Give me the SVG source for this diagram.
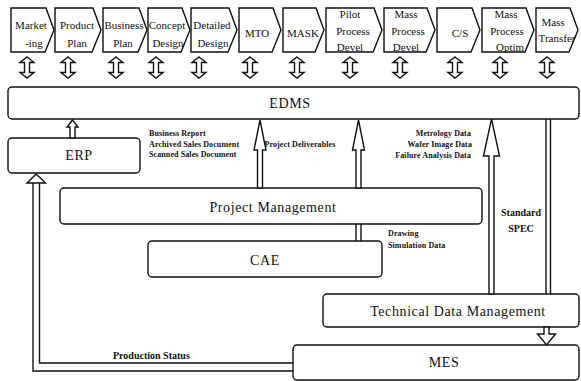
<svg xmlns="http://www.w3.org/2000/svg" width="581" height="381" viewBox="0 0 581 381">
  <defs>
    <style>
      .bg { fill: #ffffff; }
      .shape { fill: #ffffff; stroke: #111; stroke-width: 1.4; stroke-linejoin: miter; }
      .line { fill: none; stroke: #111; stroke-width: 1.4; }
      .step { font-family: "Liberation Serif", "Times New Roman", serif; font-size: 11px; fill: #111; text-anchor: middle; }
      .title { font-family: "Liberation Serif", "Times New Roman", serif; font-size: 14px; fill: #111; text-anchor: middle; letter-spacing: 0.6px; }
      .small { font-family: "Liberation Serif", "Times New Roman", serif; font-size: 8px; font-weight: bold; fill: #111; letter-spacing: 0.1px; }
      .mid { font-family: "Liberation Serif", "Times New Roman", serif; font-size: 10px; font-weight: bold; fill: #111; }
    </style>
    <!-- vertical two-way hollow arrow, centred on x=0, spanning y 57..78 -->
    <path id="dbl" d="M0,57 L7,62.5 L2.5,62.5 L2.5,72.5 L7,72.5 L0,78 L-7,72.5 L-2.5,72.5 L-2.5,62.5 L-7,62.5 Z"/>
  </defs>

  <rect class="bg" x="0" y="0" width="581" height="381"/>

  <!-- process steps along the top -->
  <g id="step-marketing">
    <polygon class="shape" points="11,8 46,8 54,30 45,52 11,52"/>
    <text class="step" x="31" y="28.5">Market</text>
    <text class="step" x="34" y="47">-ing</text>
  </g>
  <g id="step-product-plan">
    <polygon class="shape" points="55,8 93,8 101,30 92,52 55,52"/>
    <text class="step" x="77" y="28.5">Product</text>
    <text class="step" x="77" y="47">Plan</text>
  </g>
  <g id="step-business-plan">
    <polygon class="shape" points="103,8 139,8 147,30 138,52 103,52"/>
    <text class="step" x="124" y="28.5">Business</text>
    <text class="step" x="123" y="47">Plan</text>
  </g>
  <g id="step-concept-design">
    <polygon class="shape" points="148,8 182,8 190,30 181,52 148,52"/>
    <text class="step" x="167" y="28.5">Concept</text>
    <text class="step" x="168" y="47">Design</text>
  </g>
  <g id="step-detailed-design">
    <polygon class="shape" points="191,8 229,8 237,30 228,52 191,52"/>
    <text class="step" x="212" y="28.5">Detailed</text>
    <text class="step" x="213" y="47">Design</text>
  </g>
  <g id="step-mto">
    <polygon class="shape" points="239,8 273,8 281,30 272,52 239,52"/>
    <text class="step" x="257" y="37">MTO</text>
  </g>
  <g id="step-mask">
    <polygon class="shape" points="283,8 316,8 324,30 315,52 283,52"/>
    <text class="step" x="303" y="37">MASK</text>
  </g>
  <g id="step-pilot">
    <polygon class="shape" points="326,8 374,8 382,30 373,52 326,52"/>
    <text class="step" x="350" y="18">Pilot</text>
    <text class="step" x="353" y="35">Process</text>
    <text class="step" x="350" y="51">Devel</text>
  </g>
  <g id="step-mass-devel">
    <polygon class="shape" points="384,8 427,8 435,30 426,52 384,52"/>
    <text class="step" x="406" y="18">Mass</text>
    <text class="step" x="408" y="35">Process</text>
    <text class="step" x="406" y="51">Devel</text>
  </g>
  <g id="step-cs">
    <polygon class="shape" points="437,8 472,8 480,30 471,52 437,52"/>
    <text class="step" x="460" y="37">C/S</text>
  </g>
  <g id="step-mass-optim">
    <polygon class="shape" points="482,8 526,8 534,30 525,52 482,52"/>
    <text class="step" x="506" y="18">Mass</text>
    <text class="step" x="507" y="35">Process</text>
    <text class="step" x="510" y="51">Optim</text>
  </g>
  <g id="step-mass-transfer">
    <polygon class="shape" points="536,8 570,8 578,30 569,52 536,52"/>
    <text class="step" x="553" y="26">Mass</text>
    <text class="step" x="557" y="42">Transfer</text>
  </g>

  <!-- systems -->
  <g id="edms">
    <rect class="shape" x="8" y="87" width="571" height="32" rx="4"/>
    <text class="title" x="290" y="108">EDMS</text>
  </g>
  <g id="erp">
    <rect class="shape" x="8" y="138" width="132" height="35" rx="4"/>
    <text class="title" x="79" y="160">ERP</text>
  </g>
  <g id="project-management">
    <rect class="shape" x="60" y="188" width="422" height="36" rx="4"/>
    <text class="title" x="273" y="212">Project Management</text>
  </g>
  <g id="cae">
    <rect class="shape" x="148" y="241" width="234" height="36" rx="4"/>
    <text class="title" x="265" y="265">CAE</text>
  </g>
  <g id="technical-data-management">
    <rect class="shape" x="323" y="294" width="256" height="33" rx="4"/>
    <text class="title" x="458" y="316">Technical Data Management</text>
  </g>
  <g id="mes">
    <rect class="shape" x="293" y="345" width="286" height="35" rx="4"/>
    <text class="title" x="444" y="367">MES</text>
  </g>

  <!-- connectors -->
  <g id="connectors">
    <!-- steps to EDMS, two-way -->
    <use href="#dbl" class="shape" x="27"/>
    <use href="#dbl" class="shape" x="68"/>
    <use href="#dbl" class="shape" x="116"/>
    <use href="#dbl" class="shape" x="156"/>
    <use href="#dbl" class="shape" x="199"/>
    <use href="#dbl" class="shape" x="250"/>
    <use href="#dbl" class="shape" x="297"/>
    <use href="#dbl" class="shape" x="350"/>
    <use href="#dbl" class="shape" x="400"/>
    <use href="#dbl" class="shape" x="455"/>
    <use href="#dbl" class="shape" x="500"/>
    <use href="#dbl" class="shape" x="547"/>

    <!-- ERP up to EDMS -->
    <path class="shape" d="M72.5,120 L78,127 L75,127 L75,138 L70,138 L70,127 L67,127 Z"/>

    <!-- Project Management up to EDMS (two arrows) -->
    <path class="shape" d="M260,120 L266,150 L262.5,150 L262.5,188 L257.5,188 L257.5,150 L254,150 Z"/>
    <path class="shape" d="M358.5,120 L364.5,150 L361,150 L361,188 L356,188 L356,150 L352.5,150 Z"/>

    <!-- CAE to Project Management -->
    <path class="line" d="M356,224 V241 M361,224 V241"/>

    <!-- Technical Data Management up to EDMS -->
    <path class="shape" d="M491.5,119 L499.5,156 L494,156 L494,294 L489,294 L489,156 L483.5,156 Z"/>

    <!-- EDMS down to Technical Data Management (standard spec) -->
    <path class="line" d="M546,119 V294 M550.5,119 V294"/>

    <!-- Technical Data Management down to MES -->
    <path class="shape" d="M544,327 L549,327 L549,334 L555.5,334 L546.5,345 L537.5,334 L544,334 Z"/>

    <!-- MES production status back to ERP -->
    <path class="line" d="M293,371 H33 V183"/>
    <path class="line" d="M293,363 H39.5 V183"/>
    <path class="shape" d="M36.2,174 L45.5,183 L27,183 Z"/>
  </g>

  <!-- flow labels -->
  <g id="labels">
    <text class="small" x="149" y="136">Business Report</text>
    <text class="small" x="149" y="146.5">Archived Sales Document</text>
    <text class="small" x="149" y="157">Scanned Sales Document</text>
    <text class="small" x="264.5" y="147">Project Deliverables</text>
    <text class="small" x="471" y="136" text-anchor="end">Metrology Data</text>
    <text class="small" x="472" y="147" text-anchor="end">Wafer Image Data</text>
    <text class="small" x="471" y="157.5" text-anchor="end">Failure Analysis Data</text>
    <text class="small" x="388" y="236">Drawing</text>
    <text class="small" x="388" y="247.5">Simulation Data</text>
    <text class="mid" x="521" y="216" text-anchor="middle">Standard</text>
    <text class="mid" x="521" y="232" text-anchor="middle">SPEC</text>
    <text class="mid" x="113" y="359">Production Status</text>
  </g>
</svg>
